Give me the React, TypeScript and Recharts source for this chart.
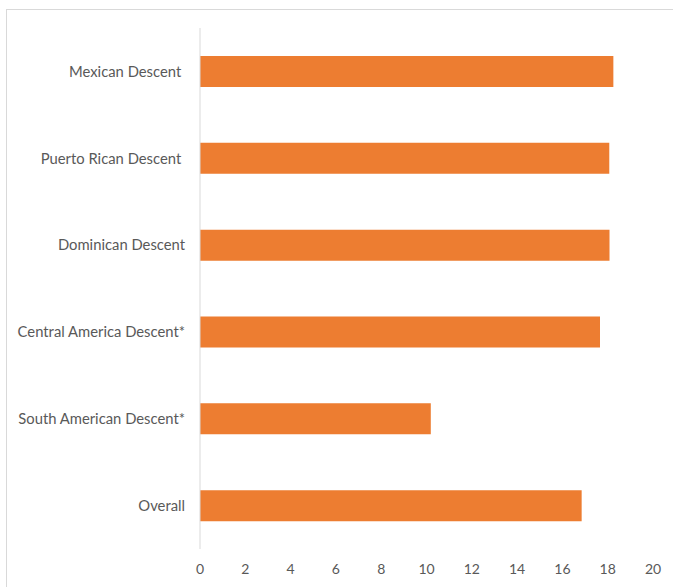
import { Bar, BarChart, XAxis, YAxis } from 'recharts';

const categories = [
  'Mexican Descent ',
  'Puerto Rican Descent ',
  'Dominican Descent',
  'Central America Descent*',
  'South American Descent*',
  'Overall',
];
const values = [18.25, 18.07, 18.08, 17.66, 10.19, 16.85];
const xTicks = [0, 2, 4, 6, 8, 10, 12, 14, 16, 18, 20];

const data = categories.map((name, i) => ({ name, value: values[i] }));

const FONT = 'Lato, "Open Sans", sans-serif';
const TEXT = '#595959';

function CategoryTick({ x, y, payload }: any) {
  return (
    <text
      x={x}
      y={y}
      dy="0.355em"
      textAnchor="end"
      fill={TEXT}
      fontSize={14.8}
      fontFamily={FONT}
      style={{ whiteSpace: 'pre' }}
    >
      {payload.value}
    </text>
  );
}

export default function App() {
  return (
    <div
      style={{
        position: 'fixed',
        left: 0,
        top: 0,
        width: 673,
        height: 587,
        overflow: 'hidden',
        background: '#fff',
      }}
    >
      <div
        style={{
          position: 'absolute',
          left: 6,
          top: 9,
          width: 690,
          height: 600,
          border: '1px solid #d9d9d9',
        }}
      >
        <BarChart
          width={690}
          height={600}
          data={data}
          layout="vertical"
          margin={{ top: 18, right: 44, bottom: 31, left: 0 }}
        >
          <XAxis
            type="number"
            domain={[0, 20]}
            ticks={xTicks}
            axisLine={false}
            tickLine={false}
            tickMargin={9}
            height={30}
            tick={{ fill: TEXT, fontSize: 14, fontFamily: FONT }}
          />
          <YAxis
            type="category"
            dataKey="name"
            width={193}
            axisLine={{ stroke: '#d9d9d9' }}
            tickLine={false}
            tickMargin={9}
            tick={<CategoryTick />}
          />
          <Bar dataKey="value" fill="#ED7D31" barSize={31} isAnimationActive={false} />
        </BarChart>
      </div>
    </div>
  );
}
